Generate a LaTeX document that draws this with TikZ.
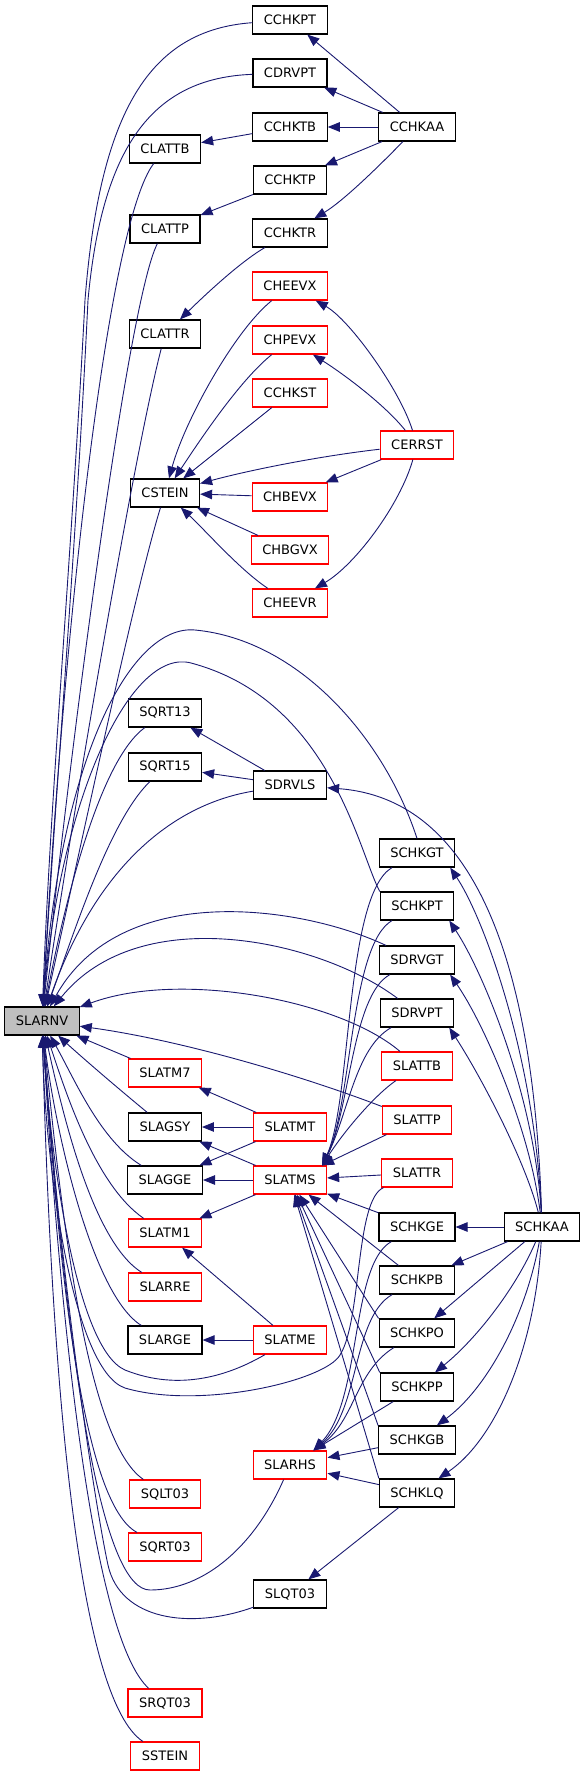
\documentclass[tikz,border=0pt]{standalone}
\usepackage{fontspec}
\setmainfont{DejaVu Sans}
\usetikzlibrary{arrows.meta}
\definecolor{edgeblue}{HTML}{191970}
\definecolor{rootgray}{HTML}{BFBFBF}
\tikzstyle{fn} = [draw=black, fill=white, line width=1.2pt, minimum height=28pt, inner xsep=11pt, inner ysep=0pt, font=\fontsize{13}{15}\selectfont]
\tikzstyle{fnred} = [fn, draw=red]
\tikzstyle{fnroot} = [fn, fill=rootgray]
\tikzstyle{call} = [draw=edgeblue, line width=0.9pt, -{Triangle[length=12pt,width=9.5pt]}]

\begin{document}
\begin{tikzpicture}[x=1pt,y=-1pt]
\useasboundingbox (0,0) rectangle (587,1776);
%begin column 1
\node[fnroot] (SLARNV) at (42,1021) {SLARNV};
%end column 1
%begin column 2
\node[fn] (CLATTB) at (165,149) {CLATTB};
\node[fn] (CLATTP) at (165,229) {CLATTP};
\node[fn] (CLATTR) at (165,334) {CLATTR};
\node[fn] (CSTEIN) at (165,493) {CSTEIN};
\node[fn] (SQRT13) at (165,713) {SQRT13};
\node[fn] (SQRT15) at (165,767) {SQRT15};
\node[fnred] (SLATM7) at (165,1073) {SLATM7};
\node[fn] (SLAGSY) at (165,1127) {SLAGSY};
\node[fn] (SLAGGE) at (165,1180) {SLAGGE};
\node[fnred] (SLATM1) at (165,1233) {SLATM1};
\node[fnred] (SLARRE) at (165,1287) {SLARRE};
\node[fn] (SLARGE) at (165,1340) {SLARGE};
\node[fnred] (SQLT03) at (165,1494) {SQLT03};
\node[fnred] (SQRT03) at (165,1547) {SQRT03};
\node[fnred] (SRQT03) at (165,1703) {SRQT03};
\node[fnred] (SSTEIN) at (165,1756) {SSTEIN};
%end column 2
%begin column 3
\node[fn] (CCHKPT) at (290,20) {CCHKPT};
\node[fn] (CDRVPT) at (290,73) {CDRVPT};
\node[fn] (CCHKTB) at (290,127) {CCHKTB};
\node[fn] (CCHKTP) at (290,180) {CCHKTP};
\node[fn] (CCHKTR) at (290,233) {CCHKTR};
\node[fnred] (CHEEVX) at (290,286) {CHEEVX};
\node[fnred] (CHPEVX) at (290,340) {CHPEVX};
\node[fnred] (CCHKST) at (290,393) {CCHKST};
\node[fnred] (CHBEVX) at (290,497) {CHBEVX};
\node[fnred] (CHBGVX) at (290,550) {CHBGVX};
\node[fnred] (CHEEVR) at (290,603) {CHEEVR};
\node[fn] (SDRVLS) at (290,785) {SDRVLS};
\node[fnred] (SLATMT) at (290,1127) {SLATMT};
\node[fnred] (SLATMS) at (290,1180) {SLATMS};
\node[fnred] (SLATME) at (290,1340) {SLATME};
\node[fnred] (SLARHS) at (290,1465) {SLARHS};
\node[fn] (SLQT03) at (290,1594) {SLQT03};
%end column 3
%begin column 4
\node[fn] (CCHKAA) at (417,127) {CCHKAA};
\node[fnred] (CERRST) at (417,445) {CERRST};
\node[fn] (SCHKGT) at (417,853) {SCHKGT};
\node[fn] (SCHKPT) at (417,906) {SCHKPT};
\node[fn] (SDRVGT) at (417,960) {SDRVGT};
\node[fn] (SDRVPT) at (417,1013) {SDRVPT};
\node[fnred] (SLATTB) at (417,1066) {SLATTB};
\node[fnred] (SLATTP) at (417,1120) {SLATTP};
\node[fnred] (SLATTR) at (417,1173) {SLATTR};
\node[fn] (SCHKGE) at (417,1227) {SCHKGE};
\node[fn] (SCHKPB) at (417,1280) {SCHKPB};
\node[fn] (SCHKPO) at (417,1333) {SCHKPO};
\node[fn] (SCHKPP) at (417,1387) {SCHKPP};
\node[fn] (SCHKGB) at (417,1440) {SCHKGB};
\node[fn] (SCHKLQ) at (417,1493) {SCHKLQ};
%end column 4
%begin column 5
\node[fn] (SCHKAA) at (542,1227) {SCHKAA};
%end column 5
\coordinate (SLATMSin) at ([xshift=-5pt]SLATMS.north east);
\coordinate (SLARHSin) at ([xshift=-14pt]SLARHS.north east);
%begin CCHKAA
\draw[call] (CCHKAA) -- (CCHKPT);
\draw[call] (CCHKAA) -- (CDRVPT);
\draw[call] (CCHKAA) -- (CCHKTB);
\draw[call] (CCHKAA) -- (CCHKTP);
\draw[call] (CCHKAA) .. controls (385,160) and (345,200) .. (CCHKTR);
\draw[call] (CCHKTB) -- (CLATTB);
\draw[call] (CCHKTP) -- (CLATTP);
\draw[call] (CCHKTR) .. controls (240,262) and (205,295) .. (CLATTR);
%end CCHKAA
%begin CERRST
\draw[call] (CERRST) .. controls (400,390) and (350,320) .. (CHEEVX);
\draw[call] (CERRST) .. controls (385,405) and (345,375) .. (CHPEVX);
\draw[call] (CERRST) .. controls (320,456) and (250,470) .. (CSTEIN);
\draw[call] (CERRST) -- (CHBEVX);
\draw[call] (CERRST) .. controls (400,505) and (355,565) .. (CHEEVR);
\draw[call] (CHEEVX) .. controls (235,330) and (185,420) .. (CSTEIN);
\draw[call] (CHPEVX) .. controls (240,380) and (200,440) .. (CSTEIN);
\draw[call] (CCHKST) -- (CSTEIN);
\draw[call] (CHBEVX) -- (CSTEIN);
\draw[call] (CHBGVX) -- (CSTEIN);
\draw[call] (CHEEVR) .. controls (240,570) and (205,530) .. (CSTEIN);
%end CERRST
%begin SLARNV from above
\draw[call] (CCHKPT) .. controls (150,30) and (100,110) .. (85,300) .. controls (72,550) and (50,800) .. (SLARNV);
\draw[call] (CDRVPT) .. controls (150,78) and (102,150) .. (88,300) .. controls (76,550) and (55,800) .. (SLARNV);
\draw[call] (CLATTB) .. controls (110,220) and (65,600) .. (SLARNV);
\draw[call] (CLATTP) .. controls (128,300) and (70,750) .. (SLARNV);
\draw[call] (CLATTR) .. controls (135,450) and (75,800) .. (SLARNV);
\draw[call] (CSTEIN) .. controls (135,590) and (80,850) .. (SLARNV);
\draw[call] (SQRT13) .. controls (100,760) and (65,900) .. (SLARNV);
\draw[call] (SQRT15) .. controls (110,820) and (75,930) .. (SLARNV);
\draw[call] (SDRVLS) .. controls (170,805) and (95,870) .. (SLARNV);
\draw[call] (SCHKGT.north) .. controls (385,740) and (300,640) .. (195,630) .. controls (130,624) and (60,760) .. (SLARNV);
\draw[call] (SCHKPT.north west) .. controls (358,850) and (330,700) .. (191,663) .. controls (130,647) and (60,800) .. (SLARNV);
\draw[call] (SDRVGT) .. controls (300,905) and (120,880) .. (SLARNV);
\draw[call] (SDRVPT) .. controls (320,940) and (140,900) .. (SLARNV);
\draw[call] (SLATTB) .. controls (340,1000) and (180,970) .. (SLARNV);
\draw[call] (SLATTP) .. controls (300,1075) and (180,1040) .. (SLARNV);
%end SLARNV from above
%begin SLARNV from below
\draw[call] (SLATM7) -- (SLARNV);
\draw[call] (SLAGSY) .. controls (120,1090) and (85,1060) .. (SLARNV);
\draw[call] (SLAGGE) .. controls (100,1140) and (75,1080) .. (SLARNV);
\draw[call] (SLATM1) .. controls (95,1185) and (65,1090) .. (SLARNV);
\draw[call] (SLARRE) .. controls (90,1240) and (60,1100) .. (SLARNV);
\draw[call] (SLARGE) .. controls (92,1295) and (55,1130) .. (SLARNV);
\draw[call] (SLATME) .. controls (230,1375) and (180,1392) .. (125,1370) .. controls (75,1348) and (50,1150) .. (SLARNV);
\draw[call] (SLATTR) .. controls (355,1200) and (362,1320) .. (340,1355) .. controls (325,1381) and (200,1410) .. (125,1388) .. controls (72,1370) and (45,1160) .. (SLARNV);
\draw[call] (SQLT03) .. controls (85,1440) and (60,1200) .. (SLARNV);
\draw[call] (SQRT03) .. controls (75,1500) and (55,1200) .. (SLARNV);
\draw[call] (SLARHS) .. controls (255,1545) and (205,1590) .. (150,1590) .. controls (105,1590) and (70,1400) .. (SLARNV);
\draw[call] (SLQT03) .. controls (190,1630) and (120,1620) .. (108,1565) .. controls (98,1520) and (62,1300) .. (SLARNV);
\draw[call] (SRQT03) .. controls (95,1640) and (62,1350) .. (SLARNV);
\draw[call] (SSTEIN) .. controls (80,1700) and (52,1400) .. (SLARNV);
%end SLARNV from below
%begin SCHKAA
\draw[call] (SCHKAA) .. controls (535,1000) and (490,800) .. (SDRVLS);
\draw[call] (SCHKAA) .. controls (535,1060) and (485,920) .. ([xshift=-5pt]SCHKGT.south east);
\draw[call] (SCHKAA) .. controls (535,1100) and (485,975) .. ([xshift=-5pt]SCHKPT.south east);
\draw[call] (SCHKAA) .. controls (530,1130) and (485,1025) .. ([xshift=-5pt]SDRVGT.south east);
\draw[call] (SCHKAA) .. controls (525,1160) and (480,1075) .. ([xshift=-5pt]SDRVPT.south east);
\draw[call] (SCHKAA) -- (SCHKGE);
\draw[call] (SCHKAA) -- (SCHKPB);
\draw[call] (SCHKAA) -- (SCHKPO);
\draw[call] (SCHKAA) .. controls (515,1290) and (475,1340) .. (SCHKPP);
\draw[call] (SCHKAA) .. controls (525,1320) and (485,1390) .. (SCHKGB);
\draw[call] (SCHKAA) .. controls (535,1350) and (495,1440) .. (SCHKLQ);
%end SCHKAA
%begin SDRVLS
\draw[call] (SDRVLS) -- (SQRT13);
\draw[call] (SDRVLS) -- (SQRT15);
%end SDRVLS
%begin matrix generators
\draw[call] (SLATMT) -- (SLATM7);
\draw[call] (SLATMT) -- (SLAGSY);
\draw[call] (SLATMT) -- (SLAGGE);
\draw[call] (SLATMS) -- (SLAGSY);
\draw[call] (SLATMS) -- (SLAGGE);
\draw[call] (SLATMS) -- (SLATM1);
\draw[call] (SLATME) -- (SLATM1);
\draw[call] (SLATME) -- (SLARGE);
%end matrix generators
%begin SLATMS callers
\draw[call] (SCHKGT) .. controls (345,895) and (352,1100) .. (SLATMSin);
\draw[call] (SCHKPT) .. controls (350,945) and (352,1105) .. (SLATMSin);
\draw[call] (SDRVGT) .. controls (352,995) and (350,1110) .. (SLATMSin);
\draw[call] (SDRVPT) .. controls (355,1048) and (348,1115) .. (SLATMSin);
\draw[call] (SLATTB) .. controls (375,1095) and (345,1130) .. (SLATMSin);
\draw[call] (SLATTP) -- (SLATMSin);
\draw[call] (SLATTR) -- (SLATMS);
\draw[call] (SCHKGE) -- (SLATMS);
\draw[call] (SCHKPB) -- (SLATMS);
\draw[call] (SCHKPO.north west) -- (SLATMS);
\draw[call] (SCHKPP.north west) -- (SLATMS);
\draw[call] (SCHKGB.north west) -- (SLATMS);
\draw[call] (SCHKLQ.north west) -- (SLATMS);
%end SLATMS callers
%begin SLARHS callers
\draw[call] (SCHKGE) .. controls (350,1265) and (362,1400) .. (SLARHSin);
\draw[call] (SCHKPB) .. controls (352,1318) and (360,1410) .. (SLARHSin);
\draw[call] (SCHKPO) .. controls (355,1372) and (355,1420) .. (SLARHSin);
\draw[call] (SCHKPP) -- (SLARHSin);
\draw[call] (SCHKGB) -- (SLARHS);
\draw[call] (SCHKLQ) -- (SLARHS);
\draw[call] (SCHKLQ) -- (SLQT03);
%end SLARHS callers
\end{tikzpicture}
\end{document}
